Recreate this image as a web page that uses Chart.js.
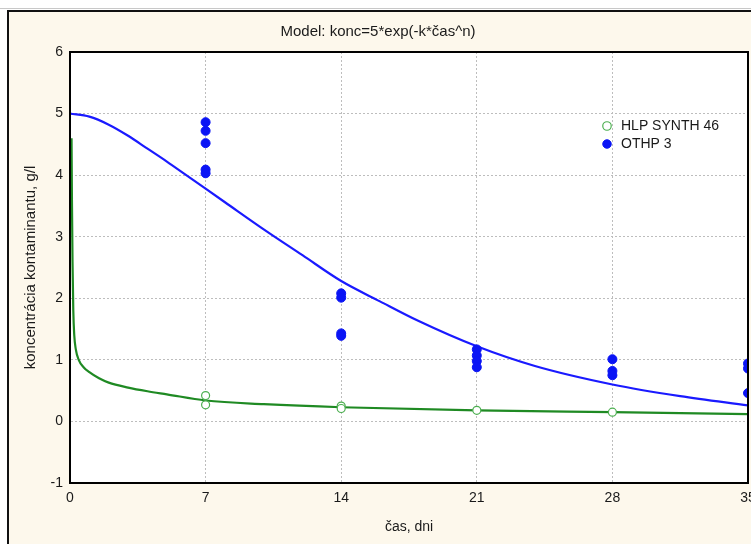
<!DOCTYPE html>
<html>
<head>
<meta charset="utf-8">
<script src="https://cdn.jsdelivr.net/npm/chart.js@4"></script>
<style>
  html, body { margin: 0; padding: 0; background: #ffffff; overflow: hidden; }
  canvas { display: block; }
</style>
</head>
<body>
<canvas id="graf" width="760" height="544"></canvas>
<script>
// namerane body //
const casOthp = [7, 7, 7, 7, 7, 14, 14, 14, 14, 21, 21, 21, 21, 28, 28, 28, 35, 35, 35];
const koncOthp = [4.86, 4.72, 4.52, 4.09, 4.03, 2.08, 2.01, 1.43, 1.39, 1.17, 1.07, 0.98, 0.88, 1.01, 0.82, 0.75, 0.94, 0.86, 0.46];
const casHlp = [7, 7, 14, 14, 21, 28];
const koncHlp = [0.42, 0.27, 0.25, 0.21, 0.18, 0.15];

// krivky modelu (odcitane z obrazku) //
const casModelOthp = [0, 1, 2, 3, 4, 5, 6, 7, 8, 10, 12, 14, 16, 18, 21, 24, 28, 31.5, 35];
const koncModelOthp = [5.0, 4.95, 4.82, 4.64, 4.43, 4.22, 4.0, 3.78, 3.56, 3.12, 2.70, 2.28, 1.95, 1.63, 1.22, 0.90, 0.60, 0.41, 0.26];
const casModelHlp = [0.08, 0.1, 0.13, 0.17, 0.22, 0.3, 0.45, 0.7, 1, 1.5, 2, 3, 4, 5, 7, 10, 14, 21, 28, 35];
const koncModelHlp = [4.6, 3.6, 2.6, 1.8, 1.4, 1.17, 1.0, 0.88, 0.8, 0.7, 0.63, 0.55, 0.49, 0.44, 0.34, 0.28, 0.23, 0.18, 0.15, 0.12];

const nazvySerii = ["HLP SYNTH 46", "OTHP 3"];
const tickyX = [0, 35, 7];
const tickyY = [-1, 6, 1];

const pismo = "'Liberation Sans', Arial, sans-serif";

function body(xs, ys) {
  return xs.map((x, i) => ({ x: x, y: ys[i] }));
}

// ram a biele pozadie grafu //
const ramPlugin = {
  id: "ram",
  beforeDraw(chart) {
    const ctx = chart.ctx;
    const a = chart.chartArea;
    ctx.save();
    ctx.fillStyle = "#fdf8ec";
    ctx.fillRect(8, 11, chart.width, chart.height);
    ctx.strokeStyle = "#c8c8c8";
    ctx.lineWidth = 1;
    ctx.beginPath();
    ctx.moveTo(0, 8.5);
    ctx.lineTo(chart.width, 8.5);
    ctx.stroke();
    ctx.strokeStyle = "#111111";
    ctx.lineWidth = 2;
    ctx.beginPath();
    ctx.moveTo(8, chart.height);
    ctx.lineTo(8, 11);
    ctx.lineTo(chart.width, 11);
    ctx.stroke();
    ctx.fillStyle = "#ffffff";
    ctx.fillRect(a.left, a.top, a.right - a.left, a.bottom - a.top);
    ctx.restore();
  },
  afterLayout(chart) {
    // legenda vo vnutri grafu //
    const lg = chart.legend;
    if (lg) {
      lg.left = 596;
      lg.top = 115;
    }
  },
  afterDraw(chart) {
    const ctx = chart.ctx;
    const a = chart.chartArea;
    ctx.save();
    ctx.strokeStyle = "#000000";
    ctx.lineWidth = 2;
    ctx.strokeRect(a.left, a.top, a.right - a.left, a.bottom - a.top);
    ctx.restore();
  }
};

new Chart(document.getElementById("graf"), {
  type: "scatter",
  data: {
    datasets: [
      {
        label: nazvySerii[0],
        data: body(casHlp, koncHlp),
        backgroundColor: "#ffffff",
        borderColor: "#4caf50",
        borderWidth: 1.2,
        pointRadius: 4,
        order: 0
      },
      {
        label: nazvySerii[1],
        data: body(casOthp, koncOthp),
        backgroundColor: "#0a14f5",
        borderColor: "#0a14f5",
        borderWidth: 1,
        pointRadius: 4.5,
        order: 1
      },
      {
        label: "model HLP",
        data: body(casModelHlp, koncModelHlp),
        showLine: true,
        borderColor: "#1f8a23",
        borderWidth: 2.2,
        pointRadius: 0,
        cubicInterpolationMode: "monotone",
        order: 2
      },
      {
        label: "model OTHP",
        data: body(casModelOthp, koncModelOthp),
        showLine: true,
        borderColor: "#1a1aff",
        borderWidth: 2.2,
        pointRadius: 0,
        cubicInterpolationMode: "monotone",
        order: 3
      }
    ]
  },
  plugins: [ramPlugin],
  options: {
    responsive: false,
    animation: false,
    devicePixelRatio: 1,
    layout: { padding: { left: 8, top: 10, right: 12, bottom: 0 } },
    plugins: {
      title: {
        display: true,
        text: "Model: konc=5*exp(-k*čas^n)",
        color: "#1a1a1a",
        font: { family: pismo, size: 15, weight: "normal" },
        padding: { top: 13, bottom: 11 }
      },
      legend: {
        position: "chartArea",
        align: "start",
        labels: {
          usePointStyle: true,
          boxWidth: 14,
          boxHeight: 6,
          padding: 4,
          color: "#1a1a1a",
          font: { family: pismo, size: 14 },
          filter: (item) => item.datasetIndex < 2
        }
      },
      tooltip: { enabled: false }
    },
    scales: {
      x: {
        type: "linear",
        min: tickyX[0],
        max: tickyX[1],
        ticks: {
          stepSize: tickyX[2],
          padding: 7,
          color: "#1a1a1a",
          font: { family: pismo, size: 14 }
        },
        grid: {
          color: "#bdbdbd",
          lineWidth: 1,
          drawTicks: false
        },
        border: { display: true, color: "#000000", width: 2, dash: [2, 2] },
        title: {
          display: true,
          text: "čas, dni",
          color: "#1a1a1a",
          font: { family: pismo, size: 14 },
          padding: { top: 0, bottom: 8 }
        },
        afterFit(scale) {
          scale.height = 61;
          scale.paddingLeft = 0;
          scale.paddingRight = 0;
        }
      },
      y: {
        type: "linear",
        min: tickyY[0],
        max: tickyY[1],
        ticks: {
          stepSize: tickyY[2],
          padding: 7,
          color: "#1a1a1a",
          font: { family: pismo, size: 14 }
        },
        grid: {
          color: "#bdbdbd",
          lineWidth: 1,
          drawTicks: false
        },
        border: { display: true, color: "#000000", width: 2, dash: [2, 2] },
        title: {
          display: true,
          text: "koncentrácia kontaminantu, g/l",
          color: "#1a1a1a",
          font: { family: pismo, size: 15 },
          padding: { top: 14, bottom: 0 }
        },
        afterFit(scale) { scale.width = 62; }
      }
    }
  }
});
</script>
</body>
</html>
